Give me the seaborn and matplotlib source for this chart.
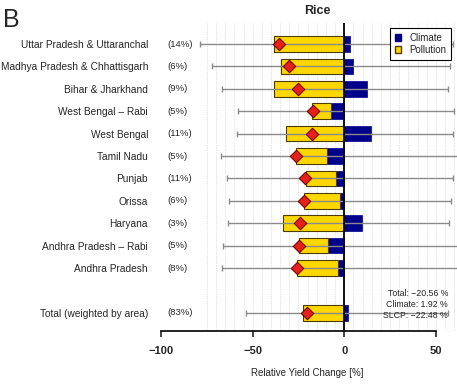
import numpy as np
import pandas as pd
import matplotlib
matplotlib.use("Agg")
import matplotlib.pyplot as plt
from matplotlib.patches import Patch
import seaborn as sns

# 各州名称与面积占比
states = ["Uttar Pradesh & Uttaranchal", "Madhya Pradesh & Chhattisgarh", "Bihar & Jharkhand",
          "West Bengal – Rabi", "West Bengal", "Tamil Nadu", "Punjab", "Orissa", "Haryana",
          "Andhra Pradesh – Rabi", "Andhra Pradesh", "Total (weighted by area)"]
shares = ["(14%)", "(6%)", "(9%)", "(5%)", "(11%)", "(5%)", "(11%)", "(6%)", "(3%)",
          "(5%)", "(8%)", "(83%)"]

# 气候 / 污染 贡献 (%)
climate = [2.9, 4.9, 12.6, -7.1, 14.4, -9.5, -4.4, -2.5, 9.5, -8.7, -3.7, 1.92]
pollution = [-38.6, -34.8, -38.1, -10.4, -31.7, -16.9, -16.7, -19.4, -33.2, -15.9, -22.0, -22.48]
# 总变化 (菱形) 与误差范围
total = [-35.9, -30.2, -25.5, -17.3, -17.5, -26.4, -21.3, -21.9, -24.0, -24.6, -25.7, -20.56]
low = [-78.7, -72.3, -66.7, -58.1, -58.6, -67.2, -63.8, -62.7, -63.2, -66.3, -66.8, -53.9]
high = [59.2, 57.8, 56.6, 60.0, 59.2, 64.0, 59.2, 58.4, 57.3, 64.0, 64.0, 56.8]

summary = ["Total: −20.56 %", "Climate: 1.92 %", "SLCP: −22.48 %"]

# 行位置 (Total 前空一行)
pos = list(range(11)) + [12]

df = pd.DataFrame({"state": states, "share": shares, "climate": climate,
                   "pollution": pollution, "total": total, "low": low,
                   "high": high, "pos": pos})

sns.set_style("white")
plt.rcParams['font.family'] = ['Liberation Sans', 'DejaVu Sans']

yellow = "#FFD700"
navy = "#00008B"

fig = plt.figure(figsize=(4.57, 3.86), dpi=100)
ax = fig.add_axes([155 / 457, 55 / 386, 302 / 457, 308 / 386])

# 背景点状网格
for gx in range(-75, 65, 5):
    ax.axvline(gx, color="#c8c8c8", lw=0.5, ls=(0, (1, 1.5)), zorder=0)

# 气候柱
ax.barh(df["pos"], df["climate"], height=0.7, color=navy, edgecolor=navy, lw=0.5, zorder=2)
# 污染柱 (气候为负时接在其左侧)
poll_left = np.where(df["climate"] < 0, df["climate"], 0)
ax.barh(df["pos"], df["pollution"], left=poll_left, height=0.7, color=yellow,
        edgecolor="#4d3d00", lw=0.8, zorder=2)

# 误差线
ax.errorbar(df["total"], df["pos"], xerr=[df["total"] - df["low"], df["high"] - df["total"]],
            fmt="none", ecolor="#8a8a8a", elinewidth=1.0, capsize=2.5, capthick=1.0, zorder=3)

ax.axvline(0, color="black", lw=1.3, zorder=3.5)

# 总变化菱形
sns.scatterplot(data=df, x="total", y="pos", marker="D", s=40, color="#e8201a",
                edgecolor="#7a0000", linewidth=0.8, zorder=4, ax=ax, legend=False)

# 占比文字
for _, r in df.iterrows():
    ax.text(-96.7, r["pos"], r["share"], ha="left", va="center", fontsize=6.8)

# 汇总注释
for i, s in enumerate(summary):
    ax.text(56.6, 11.12 + 0.51 * i, s, ha="right", va="center", fontsize=6.3)

ax.set_xlim(-103.3, 61.5)
ax.set_ylim(12.81, -0.94)
ax.set_yticks(df["pos"], df["state"], fontsize=7.25)
ax.tick_params(axis="y", length=0, pad=5)
ax.set_xticks([-100, -50, 0, 50])
ax.set_xticklabels(["−100", "−50", "0", "50"], fontsize=8, fontweight="bold")
ax.tick_params(axis="x", direction="out", length=4, width=1.2, pad=7, bottom=True)
ax.set_xlabel("")
ax.set_ylabel("")

for side in ["top", "right", "left"]:
    ax.spines[side].set_visible(False)
ax.spines["bottom"].set_bounds(-100, 50)
ax.spines["bottom"].set_linewidth(1.2)
ax.spines["bottom"].set_color("black")

handles = [Patch(facecolor=navy, edgecolor=navy, label="Climate"),
           Patch(facecolor=yellow, edgecolor="#4d3d00", label="Pollution")]
leg = ax.legend(handles=handles, loc="upper right",
                bbox_to_anchor=((451 - 155) / 302, 1 - 5 / 308), fontsize=7,
                frameon=True, fancybox=False, edgecolor="black", framealpha=1,
                handlelength=0.7, handleheight=0.7, handletextpad=0.8,
                borderpad=0.5, labelspacing=0.25, borderaxespad=0)
leg.get_frame().set_linewidth(0.8)

fig.text(317 / 457, 1 - 11 / 386, "Rice", ha="center", va="center", fontsize=9, fontweight="bold")
fig.text(307 / 457, 1 - 373 / 386, "Relative Yield Change [%]", ha="center", va="center", fontsize=7)
fig.text(3 / 457, 1 - 20 / 386, "B", ha="left", va="center", fontsize=18)

fig.savefig("out.png", dpi=100)
